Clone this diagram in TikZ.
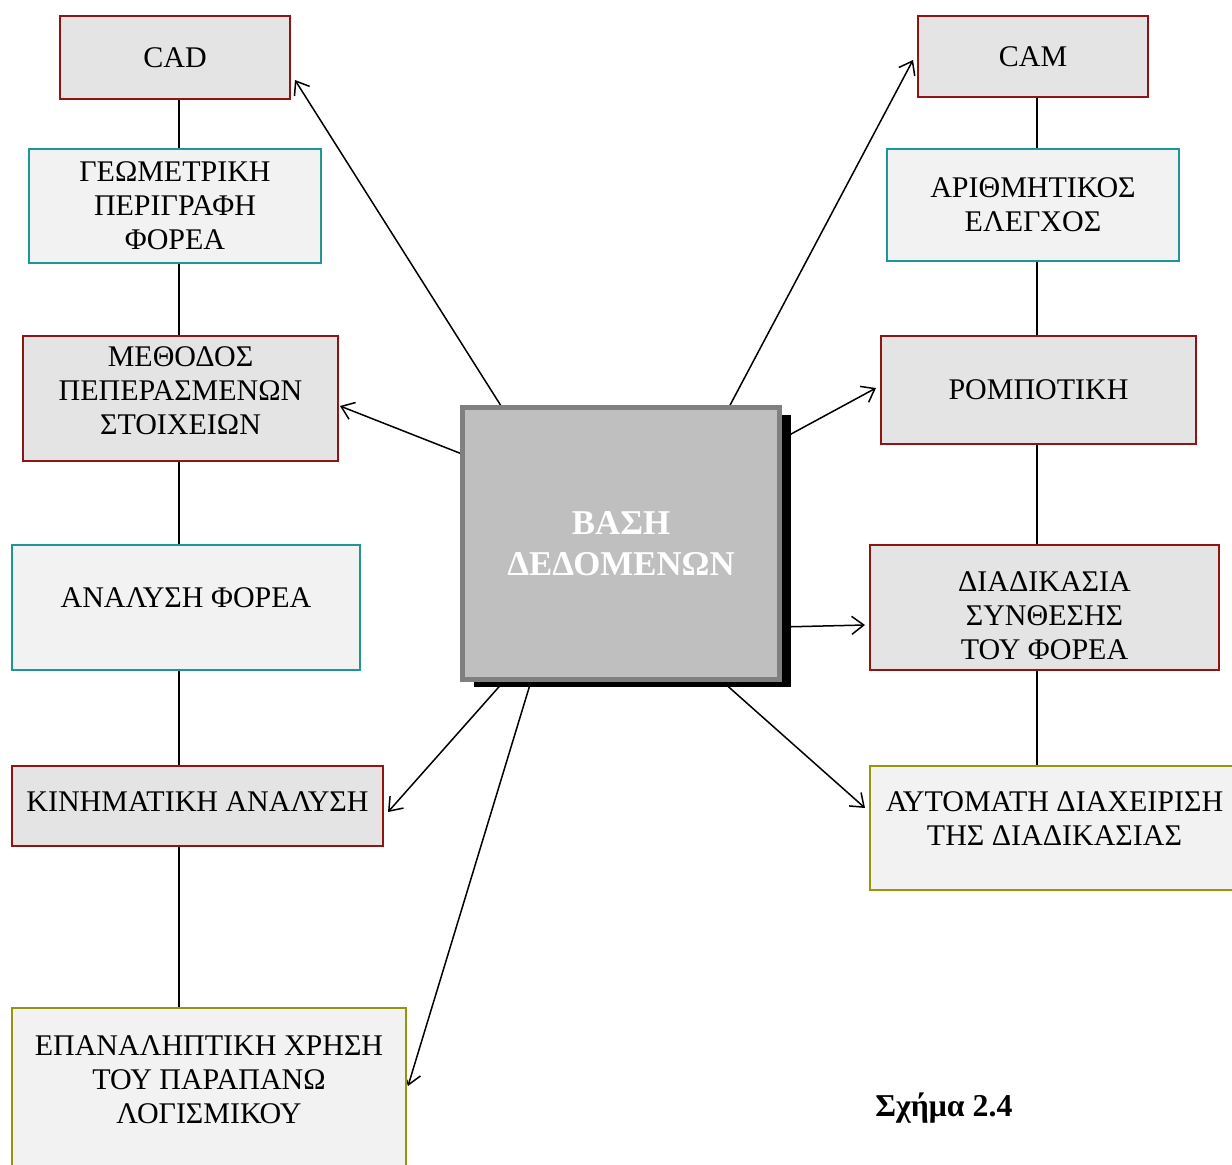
\documentclass[tikz,border=0pt]{standalone}
\usepackage{fontspec}
\setmainfont{Liberation Serif}
\usetikzlibrary{calc,shadows,backgrounds,arrows.meta}

\definecolor{boxred}{RGB}{145,20,20}
\definecolor{boxteal}{RGB}{30,150,150}
\definecolor{boxolive}{RGB}{150,150,10}
\definecolor{fillgray}{RGB}{228,228,228}
\definecolor{filllight}{RGB}{242,242,242}

\begin{document}
\begin{tikzpicture}[x=0.5pt,y=-0.5pt,>={Straight Barb[length=6pt,width=9pt]},
 box/.style={line width=1pt,inner sep=0pt,anchor=north west},
 redbox/.style={box,draw=boxred,fill=fillgray},
 tealbox/.style={box,draw=boxteal,fill=filllight},
 olivebox/.style={box,draw=boxolive,fill=filllight},
 txt/.style={align=center,font=\fontsize{15}{17}\selectfont},
 link/.style={->,line width=0.75pt},
 spine/.style={line width=1pt}]
 \useasboundingbox (0,0) rectangle (1232,1164);

 % data base in the middle
 \node[draw=black!50,fill=black!25,line width=2.5pt,anchor=north west,
  minimum width=158.5pt,minimum height=136pt,align=center,text=white,
  font=\bfseries\fontsize{17.4}{20.5}\selectfont,
  drop shadow={shadow xshift=5.5pt,shadow yshift=-3.5pt,fill=black,opacity=1}]
  (db) at (460,405) {ΒΑΣΗ\\ΔΕΔΟΜΕΝΩΝ};

 % CAD column
 \node[redbox,minimum width=115pt,minimum height=41.5pt,label={[txt]center:CAD}] (cad) at (59,15) {};
 \node[tealbox,minimum width=146pt,minimum height=57pt,label={[txt]center:ΓΕΩΜΕΤΡΙΚΗ\\ΠΕΡΙΓΡΑΦΗ\\ΦΟΡΕΑ}] (geom) at (28,148) {};
 \node[redbox,minimum width=157.5pt,minimum height=62.5pt,label={[txt,yshift=3.75pt]center:ΜΕΘΟΔΟΣ\\ΠΕΠΕΡΑΣΜΕΝΩΝ\\ΣΤΟΙΧΕΙΩΝ}] (meth) at (22,335) {};
 \node[tealbox,minimum width=174pt,minimum height=62.5pt,label={[txt,yshift=4.75pt]center:ΑΝΑΛΥΣΗ ΦΟΡΕΑ}] (anal) at (11,544) {};
 \node[redbox,minimum width=185.5pt,minimum height=40pt,label={[txt,yshift=2pt]center:ΚΙΝΗΜΑΤΙΚΗ ΑΝΑΛΥΣΗ}] (kin) at (11,765) {};
 \node[olivebox,minimum width=197pt,minimum height=79pt,label={[txt,yshift=3.5pt]center:ΕΠΑΝΑΛΗΠΤΙΚΗ ΧΡΗΣΗ\\ΤΟΥ ΠΑΡΑΠΑΝΩ\\ΛΟΓΙΣΜΙΚΟΥ}] (epan) at (11,1007) {};

 % CAM column
 \node[redbox,minimum width=115pt,minimum height=40.5pt,label={[txt]center:CAM}] (cam) at (917,15) {};
 \node[tealbox,minimum width=146pt,minimum height=56pt,label={[txt]center:ΑΡΙΘΜΗΤΙΚΟΣ\\ΕΛΕΓΧΟΣ}] (arith) at (886,148) {};
 \node[redbox,minimum width=157.5pt,minimum height=54pt,label={[txt]center:ΡΟΜΠΟΤΙΚΗ}] (romp) at (880,335) {};
 \node[redbox,minimum width=174.5pt,minimum height=62.5pt,label={[txt,yshift=-4.25pt]center:ΔΙΑΔΙΚΑΣΙΑ\\ΣΥΝΘΕΣΗΣ\\ΤΟΥ ΦΟΡΕΑ}] (diad) at (869,544) {};
 \node[olivebox,minimum width=184.5pt,minimum height=62pt,label={[txt,yshift=4.5pt]center:ΑΥΤΟΜΑΤΗ ΔΙΑΧΕΙΡΙΣΗ\\ΤΗΣ ΔΙΑΔΙΚΑΣΙΑΣ}] (autom) at (869,765) {};

 \node[anchor=base west,inner sep=0pt,font=\bfseries\fontsize{15.9}{17}\selectfont] (caption) at (875,1116) {Σχήμα 2.4};

 \coordinate (spineL) at (179,0);
 \coordinate (spineR) at (1037,0);

 \begin{scope}[on background layer]
 \foreach \a/\b in {cad/geom,geom/meth,meth/anal,anal/kin,kin/epan}
  \draw[spine] (\a.south -| spineL) -- (\b.north -| spineL);
 \foreach \a/\b in {cam/arith,arith/romp,romp/diad,diad/autom}
  \draw[spine] (\a.south -| spineR) -- (\b.north -| spineR);

 \draw[link] ($(db.north west)+(43,4)$) -- ($(cad.south east)+(4,-20)$);
 \draw[link] ($(db.north west)+(2,49)$) -- ($(meth.east)+(1,7.5)$);
 \draw[link] ($(db.south west)+(45,-2)$) -- ($(kin.east)+(4,6)$);
 \draw[link] ($(db.south west)+(72,-4)$) -- ($(epan.east)+(1,-1)$);
 \draw[link] ($(db.north east)+(-54,4)$) -- ($(cam.west)+(-4,3.5)$);
 \draw[link] ($(db.north east)+(-2,35)$) -- ($(romp.west)+(-4,-2)$);
 \draw[link] ($(db.south east)+(-2,-55)$) -- ($(diad.west)+(-4,17.5)$);
 \draw[link] ($(db.south east)+(-60,-1)$) -- ($(autom.west)+(-4,-20)$);
 \end{scope}
\end{tikzpicture}
\end{document}
